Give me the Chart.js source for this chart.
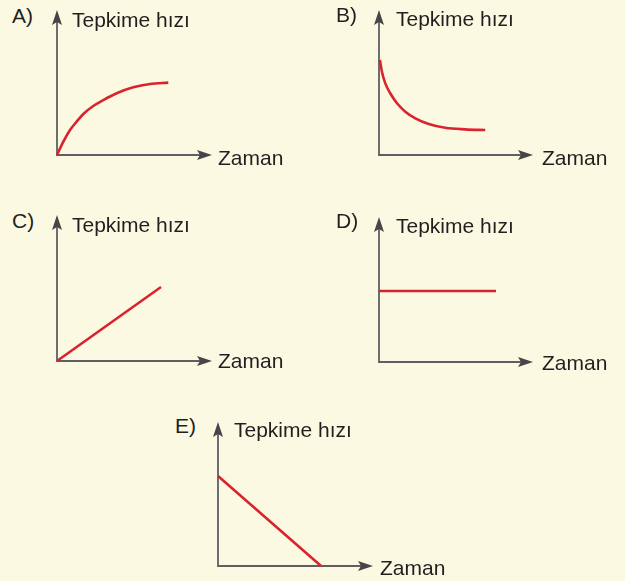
<!DOCTYPE html>
<html>
<head>
<meta charset="utf-8">
<script src="https://cdn.jsdelivr.net/npm/chart.js@4.4.1/dist/chart.umd.min.js"></script>
<style>
  html, body { margin: 0; padding: 0; }
  body { width: 625px; height: 581px; background: #fcf9e3; position: relative; overflow: hidden;
         font-family: "Liberation Sans", Arial, sans-serif; color: #231f20; }
  canvas { position: absolute; }
  .lbl { position: absolute; font-size: 21px; line-height: 21px; white-space: nowrap; }
</style>
</head>
<body>

<script>
// panel letters and axis titles
var letters = ['A)', 'B)', 'C)', 'D)', 'E)'];
var yTitle = 'Tepkime hızı';
var xTitle = 'Zaman';

// series (time 0-10, rate 0-10)
var timeA = [0, 0.41, 0.84, 1.27, 1.70, 2.34, 2.99, 3.85, 4.92, 6.00, 7.18];
var rateA = [0, 0.92, 1.72, 2.30, 2.83, 3.38, 3.79, 4.26, 4.67, 4.90, 4.99];

var timeB = [0.06, 0.19, 0.41, 0.73, 1.17, 1.71, 2.36, 3.23, 4.30, 5.60, 6.90];
var rateB = [6.55, 5.74, 4.94, 4.26, 3.57, 2.99, 2.53, 2.14, 1.88, 1.77, 1.72];

var timeC = [0, 6.71];
var rateC = [0, 5.07];

var timeD = [0, 7.6];
var rateD = [4.9, 4.9];

var timeE = [0, 6.65];
var rateE = [6.25, 0];

// where each small chart sits on the page
var panels = [
  { t: timeA, r: rateA, smooth: true,  left: 47,  top: 0,   w: 175, h: 165,
    letter: [12, 5],   yT: [72, 9],    xT: [218, 147] },
  { t: timeB, r: rateB, smooth: true,  left: 369, top: 0,   w: 174, h: 165,
    letter: [336, 4],  yT: [396, 8],   xT: [542, 147] },
  { t: timeC, r: rateC, smooth: false, left: 47,  top: 205, w: 175, h: 166,
    letter: [12, 210], yT: [72, 214],  xT: [218, 350] },
  { t: timeD, r: rateD, smooth: false, left: 369, top: 207, w: 174, h: 165,
    letter: [336, 210], yT: [396, 215], xT: [542, 352] },
  { t: timeE, r: rateE, smooth: false, left: 208, top: 412, w: 175, h: 164,
    letter: [175, 415], yT: [234, 419], xT: [380, 557] }
];

var axisColor = '#5f5f63';
var headColor = '#45454a';

var arrowAxes = {
  id: 'arrowAxes',
  beforeDatasetsDraw: function (chart) {
    var ctx = chart.ctx;
    var a = chart.chartArea;
    var x0 = chart.scales.x.getPixelForValue(0);
    var y0 = chart.scales.y.getPixelForValue(0);
    ctx.save();
    ctx.strokeStyle = axisColor;
    ctx.lineWidth = 1.8;
    ctx.beginPath();
    ctx.moveTo(x0, a.top + 10);
    ctx.lineTo(x0, y0);
    ctx.lineTo(a.right - 10, y0);
    ctx.stroke();
    ctx.fillStyle = headColor;
    // x arrow
    ctx.beginPath();
    ctx.moveTo(a.right, y0);
    ctx.lineTo(a.right - 15, y0 - 5);
    ctx.lineTo(a.right - 12, y0);
    ctx.lineTo(a.right - 15, y0 + 5);
    ctx.closePath();
    ctx.fill();
    // y arrow
    ctx.beginPath();
    ctx.moveTo(x0, a.top);
    ctx.lineTo(x0 - 5, a.top + 15);
    ctx.lineTo(x0, a.top + 12);
    ctx.lineTo(x0 + 5, a.top + 15);
    ctx.closePath();
    ctx.fill();
    ctx.restore();
  }
};

function addLabel(text, pos) {
  var d = document.createElement('div');
  d.className = 'lbl';
  d.textContent = text;
  d.style.left = pos[0] + 'px';
  d.style.top = pos[1] + 'px';
  document.body.appendChild(d);
}

panels.forEach(function (p) {
  var c = document.createElement('canvas');
  c.width = p.w;
  c.height = p.h;
  c.style.left = p.left + 'px';
  c.style.top = p.top + 'px';
  c.style.width = p.w + 'px';
  c.style.height = p.h + 'px';
  document.body.appendChild(c);

  var pts = p.t.map(function (t, i) { return { x: t, y: p.r[i] }; });

  new Chart(c, {
    type: 'line',
    data: {
      datasets: [{
        data: pts,
        borderColor: '#d9232d',
        borderWidth: 2.6,
        pointRadius: 0,
        fill: false,
        cubicInterpolationMode: p.smooth ? 'monotone' : 'default',
        tension: 0,
        clip: 10
      }]
    },
    options: {
      responsive: false,
      devicePixelRatio: 1,
      animation: false,
      layout: { padding: 10 },
      plugins: { legend: { display: false }, tooltip: { enabled: false } },
      scales: {
        x: { type: 'linear', min: 0, max: 10, display: false },
        y: { type: 'linear', min: 0, max: 10, display: false }
      }
    },
    plugins: [arrowAxes]
  });
});

panels.forEach(function (p, i) {
  addLabel(letters[i], p.letter);
  addLabel(yTitle, p.yT);
  addLabel(xTitle, p.xT);
});
</script>
</body>
</html>
